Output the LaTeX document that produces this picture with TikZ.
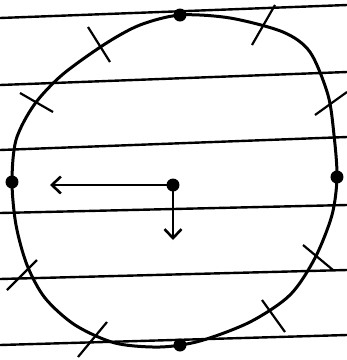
\documentclass[tikz,border=0pt]{standalone}
\usetikzlibrary{arrows.meta}
\begin{document}
\begin{tikzpicture}[
    x=1pt, y=-1pt,
    rule/.style={line width=2.4pt},
    loopline/.style={line width=3pt},
    tickmark/.style={line width=2.2pt},
    dotnode/.style={circle, fill, inner sep=0pt, minimum size=13pt},
    arrow/.style={-{Straight Barb[length=9pt, width=17pt]}, line width=2.6pt},
]
\useasboundingbox (0,0) rectangle (347,360);

% ruled lines of the paper
\foreach \yl/\yr in {18/5, 85/72, 150/137, 213/205, 279/270, 345/335}
    \draw[rule] (0,\yl) -- (347,\yr);

% the closed curve
\draw[loopline] plot[smooth cycle] coordinates {
    (180,15) (230,18) (283,32) (310,52) (328,95) (334,135) (337,177)
    (332,215) (315,258) (290,295) (250,322) (200,341) (160,347)
    (115,343) (75,325) (45,298) (27,265) (16,225) (12,182) (16,140)
    (34,105) (62,75) (105,44) (140,25)};

% dots on the curve and in the middle
\node[dotnode] (top) at (180,15) {};
\node[dotnode] (bottom) at (180,345) {};
\node[dotnode] (left) at (12,182) {};
\node[dotnode] (right) at (337,177) {};
\node[dotnode] (centre) at (173,185) {};

% tick marks
\draw[tickmark] (88,27) -- (110,62);
\draw[tickmark] (20,93) -- (53,112);
\draw[tickmark] (275,5) -- (252,45);
\draw[tickmark] (347,92) -- (315,115);
\draw[tickmark] (303,245) -- (333,270);
\draw[tickmark] (262,300) -- (285,332);
\draw[tickmark] (107,322) -- (78,357);
\draw[tickmark] (37,260) -- (7,290);

% arrows from the centre
\coordinate (lefttip) at (50,185);
\coordinate (downtip) at (173,240);
\draw[arrow] (centre.center) -- (lefttip);
\draw[arrow] (centre.center) -- (downtip);

\end{tikzpicture}
\end{document}
